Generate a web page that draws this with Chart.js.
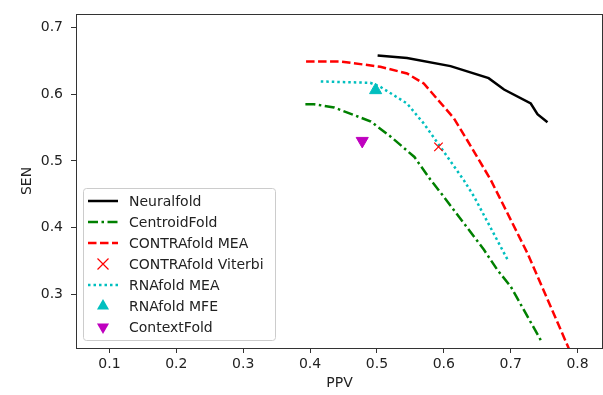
<!DOCTYPE html>
<html>
<head>
<meta charset="utf-8">
<script src="https://cdn.jsdelivr.net/npm/chart.js@4.4.0/dist/chart.umd.min.js"></script>
<style>
    html, body { margin: 0; padding: 0; background: #fff; }
    #wrap { width: 603px; height: 395px; }
</style>
</head>
<body>
<div id="wrap"><canvas id="chart" width="603" height="395"></canvas></div>
<script>
// values
const neuralPPV = [0.501, 0.545, 0.610, 0.667, 0.690, 0.730, 0.740, 0.755];
const neuralSEN = [0.658, 0.654, 0.642, 0.624, 0.607, 0.586, 0.570, 0.558];

const centroidPPV = [0.393, 0.406, 0.436, 0.491, 0.521, 0.556, 0.580, 0.598, 0.660, 0.680, 0.700, 0.747];
const centroidSEN = [0.585, 0.585, 0.580, 0.559, 0.536, 0.506, 0.472, 0.449, 0.367, 0.337, 0.312, 0.228];

const contraMeaPPV = [0.394, 0.445, 0.505, 0.545, 0.570, 0.615, 0.635, 0.670, 0.725, 0.790];
const contraMeaSEN = [0.649, 0.649, 0.641, 0.631, 0.616, 0.564, 0.531, 0.472, 0.362, 0.212];

const contraViterbiPPV = [0.592];
const contraViterbiSEN = [0.521];

const rnaMeaPPV = [0.416, 0.490, 0.505, 0.545, 0.570, 0.595, 0.630, 0.645, 0.697];
const rnaMeaSEN = [0.619, 0.617, 0.611, 0.586, 0.556, 0.521, 0.471, 0.447, 0.349];

const rnaMfePPV = [0.498];
const rnaMfeSEN = [0.606];

const contextPPV = [0.478];
const contextSEN = [0.530];

const xTicks = [0.1, 0.2, 0.3, 0.4, 0.5, 0.6, 0.7, 0.8];
const yTicks = [0.3, 0.4, 0.5, 0.6, 0.7];

const FONT = "DejaVu Sans";
const INK = "#222";
const SPINE = "#333";

function pts(xs, ys) {
    return xs.map((x, i) => ({ x: x, y: ys[i] }));
}

function lineSet(label, xs, ys, color, dash) {
    return {
        label: label,
        data: pts(xs, ys),
        showLine: true,
        borderColor: color,
        backgroundColor: color,
        borderWidth: 2.5,
        borderDash: dash,
        pointRadius: 0,
        tension: 0,
        kind: "line",
    };
}

function markSet(label, xs, ys, color, style, rot) {
    return {
        label: label,
        data: pts(xs, ys),
        showLine: false,
        borderColor: color,
        backgroundColor: color,
        pointStyle: style,
        pointRotation: rot,
        pointRadius: style === "crossRot" ? 6 : 7,
        borderWidth: style === "crossRot" ? 1.2 : 1,
        kind: "mark",
    };
}

// draw the full box round the plot area like matplotlib spines
const framePlugin = {
    id: "frame",
    afterDraw(chart) {
        const { ctx, chartArea: a } = chart;
        ctx.save();
        ctx.strokeStyle = SPINE;
        ctx.lineWidth = 1;
        ctx.strokeRect(a.left + 0.5, a.top + 0.5, a.right - a.left - 1, a.bottom - a.top);
        ctx.restore();
    },
};

function drawMarker(ctx, ds, x, y) {
    ctx.save();
    ctx.fillStyle = ds.backgroundColor;
    ctx.strokeStyle = ds.borderColor;
    if (ds.pointStyle === "crossRot") {
        const r = 5.5;
        ctx.lineWidth = 1.2;
        ctx.beginPath();
        ctx.moveTo(x - r, y - r); ctx.lineTo(x + r, y + r);
        ctx.moveTo(x - r, y + r); ctx.lineTo(x + r, y - r);
        ctx.stroke();
    } else {
        const r = 7;
        const s = ds.pointRotation ? -1 : 1;
        ctx.beginPath();
        ctx.moveTo(x, y - s * r);
        ctx.lineTo(x + r * 0.866, y + s * r * 0.5);
        ctx.lineTo(x - r * 0.866, y + s * r * 0.5);
        ctx.closePath();
        ctx.fill();
    }
    ctx.restore();
}

// legend sitting inside the axes, lower left
const legendPlugin = {
    id: "boxLegend",
    afterDatasetsDraw(chart) {
        const ctx = chart.ctx;
        const bx = 83, by = 188, bw = 192, bh = 152, r = 3;
        ctx.save();
        ctx.beginPath();
        ctx.roundRect(bx + 0.5, by + 0.5, bw, bh, r);
        ctx.fillStyle = "rgba(255,255,255,0.8)";
        ctx.fill();
        ctx.strokeStyle = "#cccccc";
        ctx.lineWidth = 1;
        ctx.stroke();

        const rowH = 21;
        const y0 = by + 13;
        ctx.font = "14px " + FONT;
        ctx.textBaseline = "middle";
        ctx.textAlign = "left";
        chart.data.datasets.forEach((ds, i) => {
            const y = y0 + i * rowH;
            if (ds.kind === "line") {
                ctx.save();
                ctx.strokeStyle = ds.borderColor;
                ctx.lineWidth = ds.borderWidth;
                ctx.setLineDash(ds.borderDash || []);
                ctx.beginPath();
                ctx.moveTo(88, y);
                ctx.lineTo(118, y);
                ctx.stroke();
                ctx.restore();
            } else {
                drawMarker(ctx, ds, 103, y);
            }
            ctx.fillStyle = INK;
            ctx.fillText(ds.label, 129, y + 1);
        });
        ctx.restore();
    },
};

const datasets = [
    lineSet("Neuralfold", neuralPPV, neuralSEN, "#000000", []),
    lineSet("CentroidFold", centroidPPV, centroidSEN, "#008000", [10, 3.5, 2.5, 3.5]),
    lineSet("CONTRAfold MEA", contraMeaPPV, contraMeaSEN, "#ff0000", [8.5, 3.5]),
    markSet("CONTRAfold Viterbi", contraViterbiPPV, contraViterbiSEN, "#ff0000", "crossRot", 0),
    lineSet("RNAfold MEA", rnaMeaPPV, rnaMeaSEN, "#00bfbf", [2.5, 3]),
    markSet("RNAfold MFE", rnaMfePPV, rnaMfeSEN, "#00bfbf", "triangle", 0),
    markSet("ContextFold", contextPPV, contextSEN, "#bf00bf", "triangle", 180),
];

const tickFont = { family: FONT, size: 14 };

new Chart(document.getElementById("chart"), {
    type: "scatter",
    data: { datasets: datasets },
    options: {
        responsive: false,
        animation: false,
        layout: { autoPadding: false, padding: { top: 14, right: 0, left: 0, bottom: 0 } },
        plugins: {
            legend: { display: false },
            tooltip: { enabled: false },
        },
        scales: {
            x: {
                type: "linear",
                min: 0.05,
                max: 0.838,
                afterFit: (s) => { s.height = 47; s.paddingLeft = 0; s.paddingRight = 0; },
                afterBuildTicks: (s) => { s.ticks = xTicks.map((v) => ({ value: v })); },
                ticks: {
                    font: tickFont,
                    color: INK,
                    padding: 3,
                    maxRotation: 0,
                    callback: (v) => v.toFixed(1),
                },
                grid: {
                    drawOnChartArea: false,
                    drawTicks: true,
                    tickLength: 5,
                    tickColor: SPINE,
                    color: SPINE,
                },
                border: { display: true, color: SPINE },
                title: {
                    display: true,
                    text: "PPV",
                    font: tickFont,
                    color: INK,
                    padding: { top: 0, bottom: 3 },
                },
            },
            y: {
                type: "linear",
                min: 0.22,
                max: 0.72,
                afterFit: (s) => { s.width = 76; s.paddingTop = 0; s.paddingBottom = 0; },
                afterBuildTicks: (s) => { s.ticks = yTicks.map((v) => ({ value: v })); },
                ticks: {
                    font: tickFont,
                    color: INK,
                    padding: 8,
                    callback: (v) => v.toFixed(1),
                },
                grid: {
                    drawOnChartArea: false,
                    drawTicks: true,
                    tickLength: 5,
                    tickColor: SPINE,
                    color: SPINE,
                },
                border: { display: true, color: SPINE },
                title: {
                    display: true,
                    text: "SEN",
                    font: tickFont,
                    color: INK,
                    padding: { top: 19, bottom: 0 },
                },
            },
        },
    },
    plugins: [framePlugin, legendPlugin],
});
</script>
</body>
</html>
